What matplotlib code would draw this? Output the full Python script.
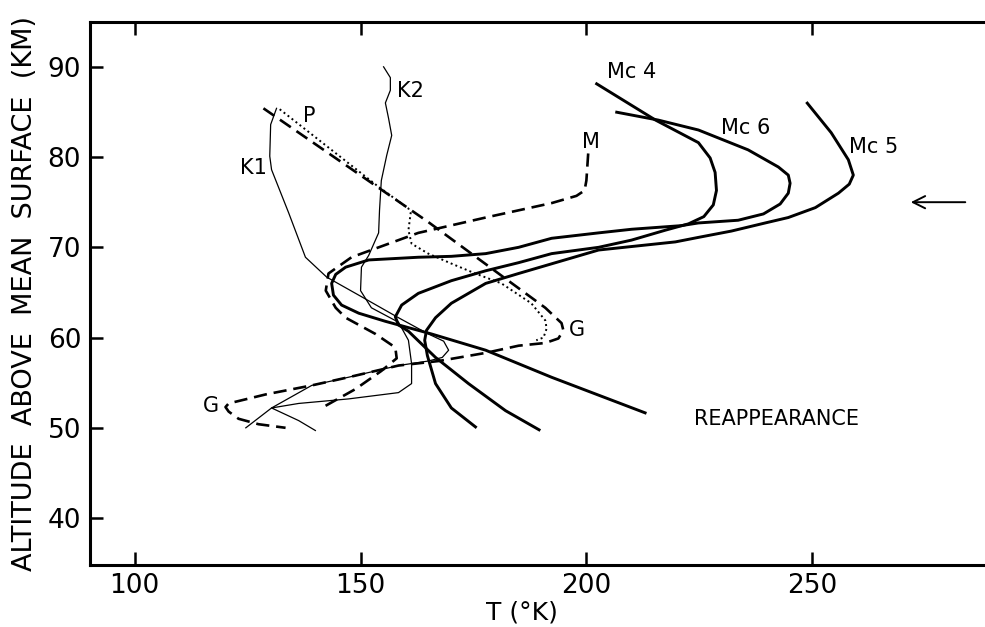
import matplotlib.pyplot as plt

# temperature profiles, T in K against altitude in km
t_p = [132.1, 154.0, 160.6, 161.1, 160.6, 161.3, 165.0, 170.1, 175.4, 181.2,
       187.8, 190.9, 191.2, 190.5, 188.9]
z_p = [85.3, 76.7, 74.3, 73.8, 71.9, 70.4, 69.3, 68.2, 67.1, 66.0,
       63.8, 61.9, 61.0, 60.0, 59.7]

t_g = [128.5, 165.0, 190.9, 194.5, 194.9, 193.8, 190.9, 185.0, 177.7, 167.3,
       158.4, 147.3, 139.2, 129.0, 120.8, 120.1, 120.8, 123.0, 127.4, 133.4]
z_g = [85.4, 72.8, 63.3, 61.6, 60.8, 59.9, 59.4, 59.1, 58.3, 57.4,
       56.9, 55.6, 54.7, 53.7, 52.7, 52.3, 51.8, 51.0, 50.4, 50.0]

t_m = [200.4, 200.0, 199.6, 197.8, 192.3, 177.7, 162.8, 148.0, 142.9, 142.3,
       144.5, 146.7, 153.3, 157.7, 158.0, 154.6, 148.9, 141.4]
z_m = [80.4, 77.4, 76.3, 75.7, 74.9, 73.3, 71.6, 68.9, 67.1, 65.2,
       63.3, 62.2, 60.4, 58.9, 57.7, 56.3, 54.3, 52.2]

t_k1 = [131.4, 130.1, 129.9, 130.3, 134.1, 137.8, 142.5, 149.6, 158.4, 165.0,
        168.4, 169.5, 168.1, 165.0, 158.4, 147.3, 139.2, 130.3, 124.6]
z_k1 = [85.4, 83.6, 80.1, 78.6, 73.8, 68.9, 66.7, 64.7, 62.2, 60.4,
        59.6, 58.6, 57.8, 57.4, 56.9, 55.6, 54.7, 52.2, 50.0]

t_k2 = [155.1, 156.6, 156.6, 155.5, 156.2, 156.9, 155.8, 154.6, 154.2, 154.0,
        151.8, 150.2, 150.0, 152.4, 158.4, 160.6, 161.3, 161.3, 158.4, 147.3,
        136.3, 130.3, 136.3, 140.0]
z_k2 = [90.0, 88.8, 87.4, 86.0, 84.3, 82.4, 80.2, 77.4, 74.1, 71.6,
        69.1, 67.8, 65.2, 63.3, 61.7, 59.7, 57.1, 54.9, 53.9, 53.2,
        52.7, 52.2, 50.8, 49.7]

t_mc4 = [202.0, 215.3, 224.8, 227.4, 228.5, 228.8, 228.1, 226.0, 222.6, 217.5,
         210.0, 202.7, 192.3, 185.0, 177.7, 170.1, 162.8, 159.1, 157.7, 158.4,
         160.6, 166.6, 173.9, 182.1, 189.8]
z_mc4 = [88.2, 84.1, 81.6, 79.9, 78.3, 76.3, 74.7, 73.4, 72.6, 71.9,
         70.8, 70.0, 69.3, 68.3, 67.4, 66.3, 64.9, 63.6, 62.3, 61.4,
         60.7, 57.8, 54.9, 51.9, 49.7]

t_mc5 = [248.7, 254.2, 258.0, 259.1, 258.2, 255.8, 250.7, 244.7, 239.6, 232.1,
         224.8, 219.7, 202.7, 185.0, 177.7, 170.1, 166.6, 164.6, 164.2, 164.8,
         166.6, 170.1, 175.7]
z_mc5 = [86.1, 82.7, 79.7, 78.0, 77.0, 76.0, 74.4, 73.3, 72.7, 71.8,
         71.1, 70.6, 69.7, 67.1, 66.0, 63.8, 62.2, 60.8, 59.7, 58.0,
         54.9, 52.2, 50.0]

t_mc6 = [206.4, 215.9, 224.8, 235.8, 242.5, 244.7, 245.1, 244.7, 242.9, 239.2,
         233.6, 224.8, 221.0, 210.0, 202.7, 192.3, 185.0, 177.7, 170.1, 162.8,
         151.8, 146.7, 144.5, 143.6, 144.0, 145.8, 149.6, 155.5, 165.7, 177.7,
         192.3, 213.3]
z_mc6 = [85.0, 84.1, 83.0, 80.8, 78.9, 78.0, 77.1, 76.0, 74.8, 73.7,
         73.0, 72.7, 72.4, 72.0, 71.6, 71.0, 70.0, 69.3, 69.0, 68.9,
         68.6, 67.8, 67.0, 66.0, 64.7, 63.6, 62.7, 61.8, 60.4, 58.6,
         55.6, 51.6]

x_ticks = [100, 150, 200, 250]
y_ticks = [40, 50, 60, 70, 80, 90]

fig = plt.figure(figsize=(9.85, 6.27), dpi=100)
ax = fig.add_axes([0.0909, 0.0989, 0.924, 0.8665])

thick = dict(color="black", lw=2.1, solid_capstyle="butt")
thin = dict(color="black", lw=0.9)
dash = dict(color="black", lw=1.9, dashes=[5, 2.6])

ax.plot(t_mc4, z_mc4, **thick)
ax.plot(t_mc5, z_mc5, **thick)
ax.plot(t_mc6, z_mc6, **thick)
ax.plot(t_k1, z_k1, **thin)
ax.plot(t_k2, z_k2, **thin)
ax.plot(t_g, z_g, **dash)
ax.plot(t_m, z_m, **dash)
ax.plot(t_p, z_p, color="black", lw=1.4, dashes=[1, 1.6])

lab = dict(fontsize=15, ha="center", va="center")
ax.text(138.7, 84.6, "P", **lab)
ax.text(126.3, 78.8, "K1", **lab)
ax.text(161.1, 87.3, "K2", **lab)
ax.text(200.9, 81.7, "M", **lab)
ax.text(197.8, 60.8, "G", **lab)
ax.text(116.8, 52.4, "G", **lab)
ax.text(210.0, 89.4, "Mc 4", **lab)
ax.text(235.2, 83.2, "Mc 6", **lab)
ax.text(263.5, 81.1, "Mc 5", **lab)
ax.text(242.0, 51.0, "REAPPEARANCE", **lab)

ax.annotate("", xy=(271.2, 75.0), xytext=(284.5, 75.0),
            arrowprops=dict(arrowstyle="->", lw=1.4, color="black",
                            mutation_scale=22))

ax.set_xlim(90, 291.5)
ax.set_ylim(34.8, 95)
ax.set_xticks(x_ticks)
ax.set_yticks(y_ticks)
ax.tick_params(direction="in", length=9.5, width=1.8, labelsize=19,
               top=True, right=True, pad=6)
for s in ax.spines.values():
    s.set_linewidth(2.2)

ax.set_xlabel("T (°K)", fontsize=18)
ax.xaxis.set_label_coords(0.475, -0.066)
ax.xaxis.label.set_va("top")
ax.set_ylabel("ALTITUDE  ABOVE  MEAN  SURFACE  (KM)", fontsize=19.5)
ax.yaxis.set_label_coords(-0.057, 0.5)

fig.savefig("out.png", dpi=100)
